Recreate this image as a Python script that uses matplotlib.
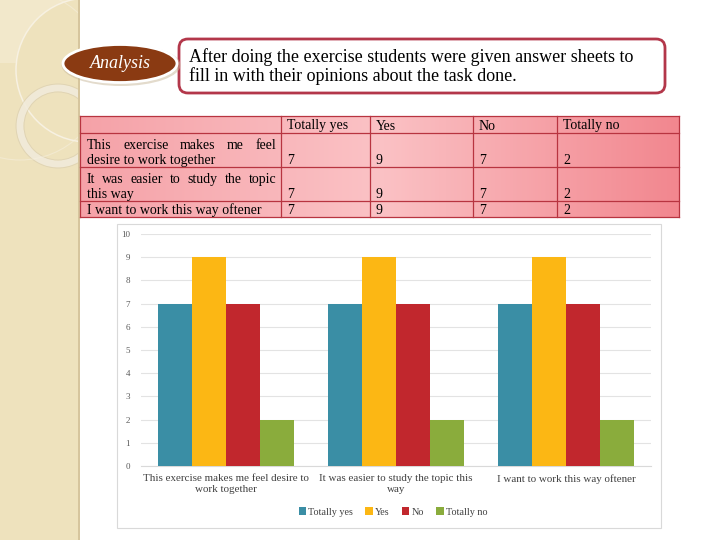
import matplotlib
matplotlib.use("Agg")
import matplotlib.pyplot as plt
import numpy as np
from matplotlib.patches import Rectangle, FancyBboxPatch, Ellipse, Circle
from matplotlib.colors import LinearSegmentedColormap

# ---------------- data ----------------
categories = ["This exercise makes me feel desire to work together",
              "It was easier to study the topic this way",
              "I want to work this way oftener"]
tick_labels = ["This exercise makes me feel desire to\nwork together",
               "It was easier to study the topic this\nway",
               "I want to work this way oftener"]
table_row_lines = [["This exercise makes me feel", "desire to work together"],
                   ["It was easier to study the topic", "this way"],
                   ["I want to work this way oftener"]]
series_names = ["Totally yes", "Yes", "No", "Totally no"]
totally_yes = [7, 7, 7]
yes = [9, 9, 9]
no = [7, 7, 7]
totally_no = [2, 2, 2]
series_values = [totally_yes, yes, no, totally_no]
colors = ["#3a8ea5", "#fcb714", "#c1272d", "#8aac3c"]
yticks = list(range(0, 11))
intro_text = ("After doing the exercise students were given answer sheets to\n"
              "fill in with their opinions about the task done.")
badge_text = "Analysis"

SERIF = ["Liberation Serif", "DejaVu Serif"]
plt.rcParams["font.family"] = SERIF

fig = plt.figure(figsize=(7.2, 5.4), dpi=100)
fig.patch.set_facecolor("white")

# overlay for slide decoration
ov = fig.add_axes([0, 0, 1, 1], zorder=0)
ov.set_xlim(0, 720)
ov.set_ylim(540, 0)
ov.axis("off")

# left beige panel
panel_clip = Rectangle((0, 0), 79, 540, transform=ov.transData)
ov.add_patch(Rectangle((0, 0), 79, 540, facecolor="#eee2bd", edgecolor="none"))
ov.add_patch(Rectangle((0, 0), 79, 63, facecolor="#f2e8cb", edgecolor="none"))
c = Circle((88, 70), 72, facecolor="#eee2bd", edgecolor="#f7f1e2", lw=1.1)
ov.add_patch(c); c.set_clip_path(panel_clip)
for (cx, cy, r, lw, col, a) in [(58, 126, 38, 5.0, "#f1ebdc", 0.85),
                                (58, 126, 42, 0.6, "#d8ccb0", 0.7),
                                (58, 126, 34, 0.6, "#d8ccb0", 0.7),
                                (20, 75, 85, 0.8, "#f7f1e2", 0.5)]:
    c = Circle((cx, cy), r, facecolor="none", edgecolor=col, lw=lw, alpha=a)
    ov.add_patch(c)
    c.set_clip_path(panel_clip)
ov.add_patch(Rectangle((78, 0), 2, 540, facecolor="#d6c59d", edgecolor="none"))

# intro text box
ov.add_patch(FancyBboxPatch((179, 39), 486, 54, boxstyle="round,pad=0,rounding_size=9",
                            facecolor="white", edgecolor="#b3374a", lw=2))
ov.text(189, 66.5, intro_text, fontsize=13, color="black", va="center", ha="left",
        linespacing=1.1)

# badge
ov.add_patch(Ellipse((121, 65), 119, 42, facecolor="#c8b89a", edgecolor="none", alpha=0.5))
ov.add_patch(Ellipse((120, 63.5), 114, 38, facecolor="#8a3a12", edgecolor="white", lw=2))
ov.text(120, 64, badge_text, fontsize=13, color="white", style="italic",
        ha="center", va="center")

# table
col_x = [80, 281, 370, 473, 557, 679]
row_y = [116, 133, 167, 201, 217]
grad = LinearSegmentedColormap.from_list("g", [(0, "#f5a2a8"), (0.5, "#fbc2c5"), (1, "#f2878f")])
ov.imshow(np.linspace(0, 1, 300)[None, :], cmap=grad, aspect="auto",
          extent=(col_x[0], col_x[-1], row_y[-1], row_y[0]), zorder=1)
bc = "#b83440"
for y in row_y:
    ov.plot([col_x[0], col_x[-1]], [y, y], color=bc, lw=0.9, zorder=2)
for x in col_x:
    ov.plot([x, x], [row_y[0], row_y[-1]], color=bc, lw=0.9, zorder=2)
TFS = 10
for j, name in enumerate(series_names):
    ov.text(col_x[j + 1] + 6, row_y[1] - 3.5, name, fontsize=TFS,
            ha="left", va="baseline", zorder=3)

fig.canvas.draw()
renderer = fig.canvas.get_renderer()


def justified(x0, x1, y, line):
    words = line.split()
    texts = [ov.text(0, y, w, fontsize=TFS, ha="left", va="baseline", zorder=3) for w in words]
    inv = ov.transData.inverted()
    widths = []
    for t in texts:
        bb = t.get_window_extent(renderer)
        a = inv.transform((bb.x0, bb.y0))
        b = inv.transform((bb.x1, bb.y0))
        widths.append(b[0] - a[0])
    gap = (x1 - x0 - sum(widths)) / max(len(words) - 1, 1)
    x = x0
    for t, w in zip(texts, widths):
        t.set_x(x)
        x += w + gap


for i, lines in enumerate(table_row_lines):
    bot = row_y[i + 2]
    n = len(lines)
    for k, line in enumerate(lines):
        yb = bot - 3 - (n - 1 - k) * 15
        if k < n - 1:
            justified(col_x[0] + 7, col_x[1] - 5, yb, line)
        else:
            ov.text(col_x[0] + 7, yb, line, fontsize=TFS, ha="left", va="baseline", zorder=3)
    for j, vals in enumerate(series_values):
        ov.text(col_x[j + 1] + 6, bot - 3, str(vals[i]), fontsize=TFS,
                ha="left", va="baseline", zorder=3)

# chart box
ov.add_patch(Rectangle((117, 224), 544, 304, facecolor="white", edgecolor="#d9d9d9", lw=0.8))

# ---------------- chart ----------------
ax = fig.add_axes([141 / 720, 1 - 466 / 540, 510 / 720, 232 / 540], zorder=2)
ax.set_facecolor("none")
x = np.arange(len(categories))
w = 0.2
for k, (name, vals, c) in enumerate(zip(series_names, series_values, colors)):
    ax.bar(x + (k - 1.5) * w, vals, width=w, color=c, label=name, zorder=3)
ax.set_xlim(-0.5, len(categories) - 0.5)
ax.set_ylim(0, 10)
ax.set_yticks(yticks)
ax.yaxis.grid(True, color="#e3e3e3", lw=0.8, zorder=0)
ax.set_axisbelow(True)
for s in ["top", "right", "left"]:
    ax.spines[s].set_visible(False)
ax.spines["bottom"].set_color("#d9d9d9")
ax.tick_params(axis="both", length=0)
ax.tick_params(axis="y", labelsize=6.5, labelcolor="#595959", pad=8)
ax.set_xticks(x)
ax.set_xticklabels(tick_labels, fontsize=7.9, color="#404040", linespacing=1.2)
ax.tick_params(axis="x", pad=6)
leg = ax.legend(loc="center", bbox_to_anchor=(393 / 720, 1 - 512 / 540),
                bbox_transform=fig.transFigure, ncol=4, frameon=False, fontsize=7.3,
                handlelength=0.75, handleheight=0.75, handletextpad=0.2,
                columnspacing=1.2, labelcolor="#404040")

fig.savefig("out.png", dpi=100, facecolor="white")
